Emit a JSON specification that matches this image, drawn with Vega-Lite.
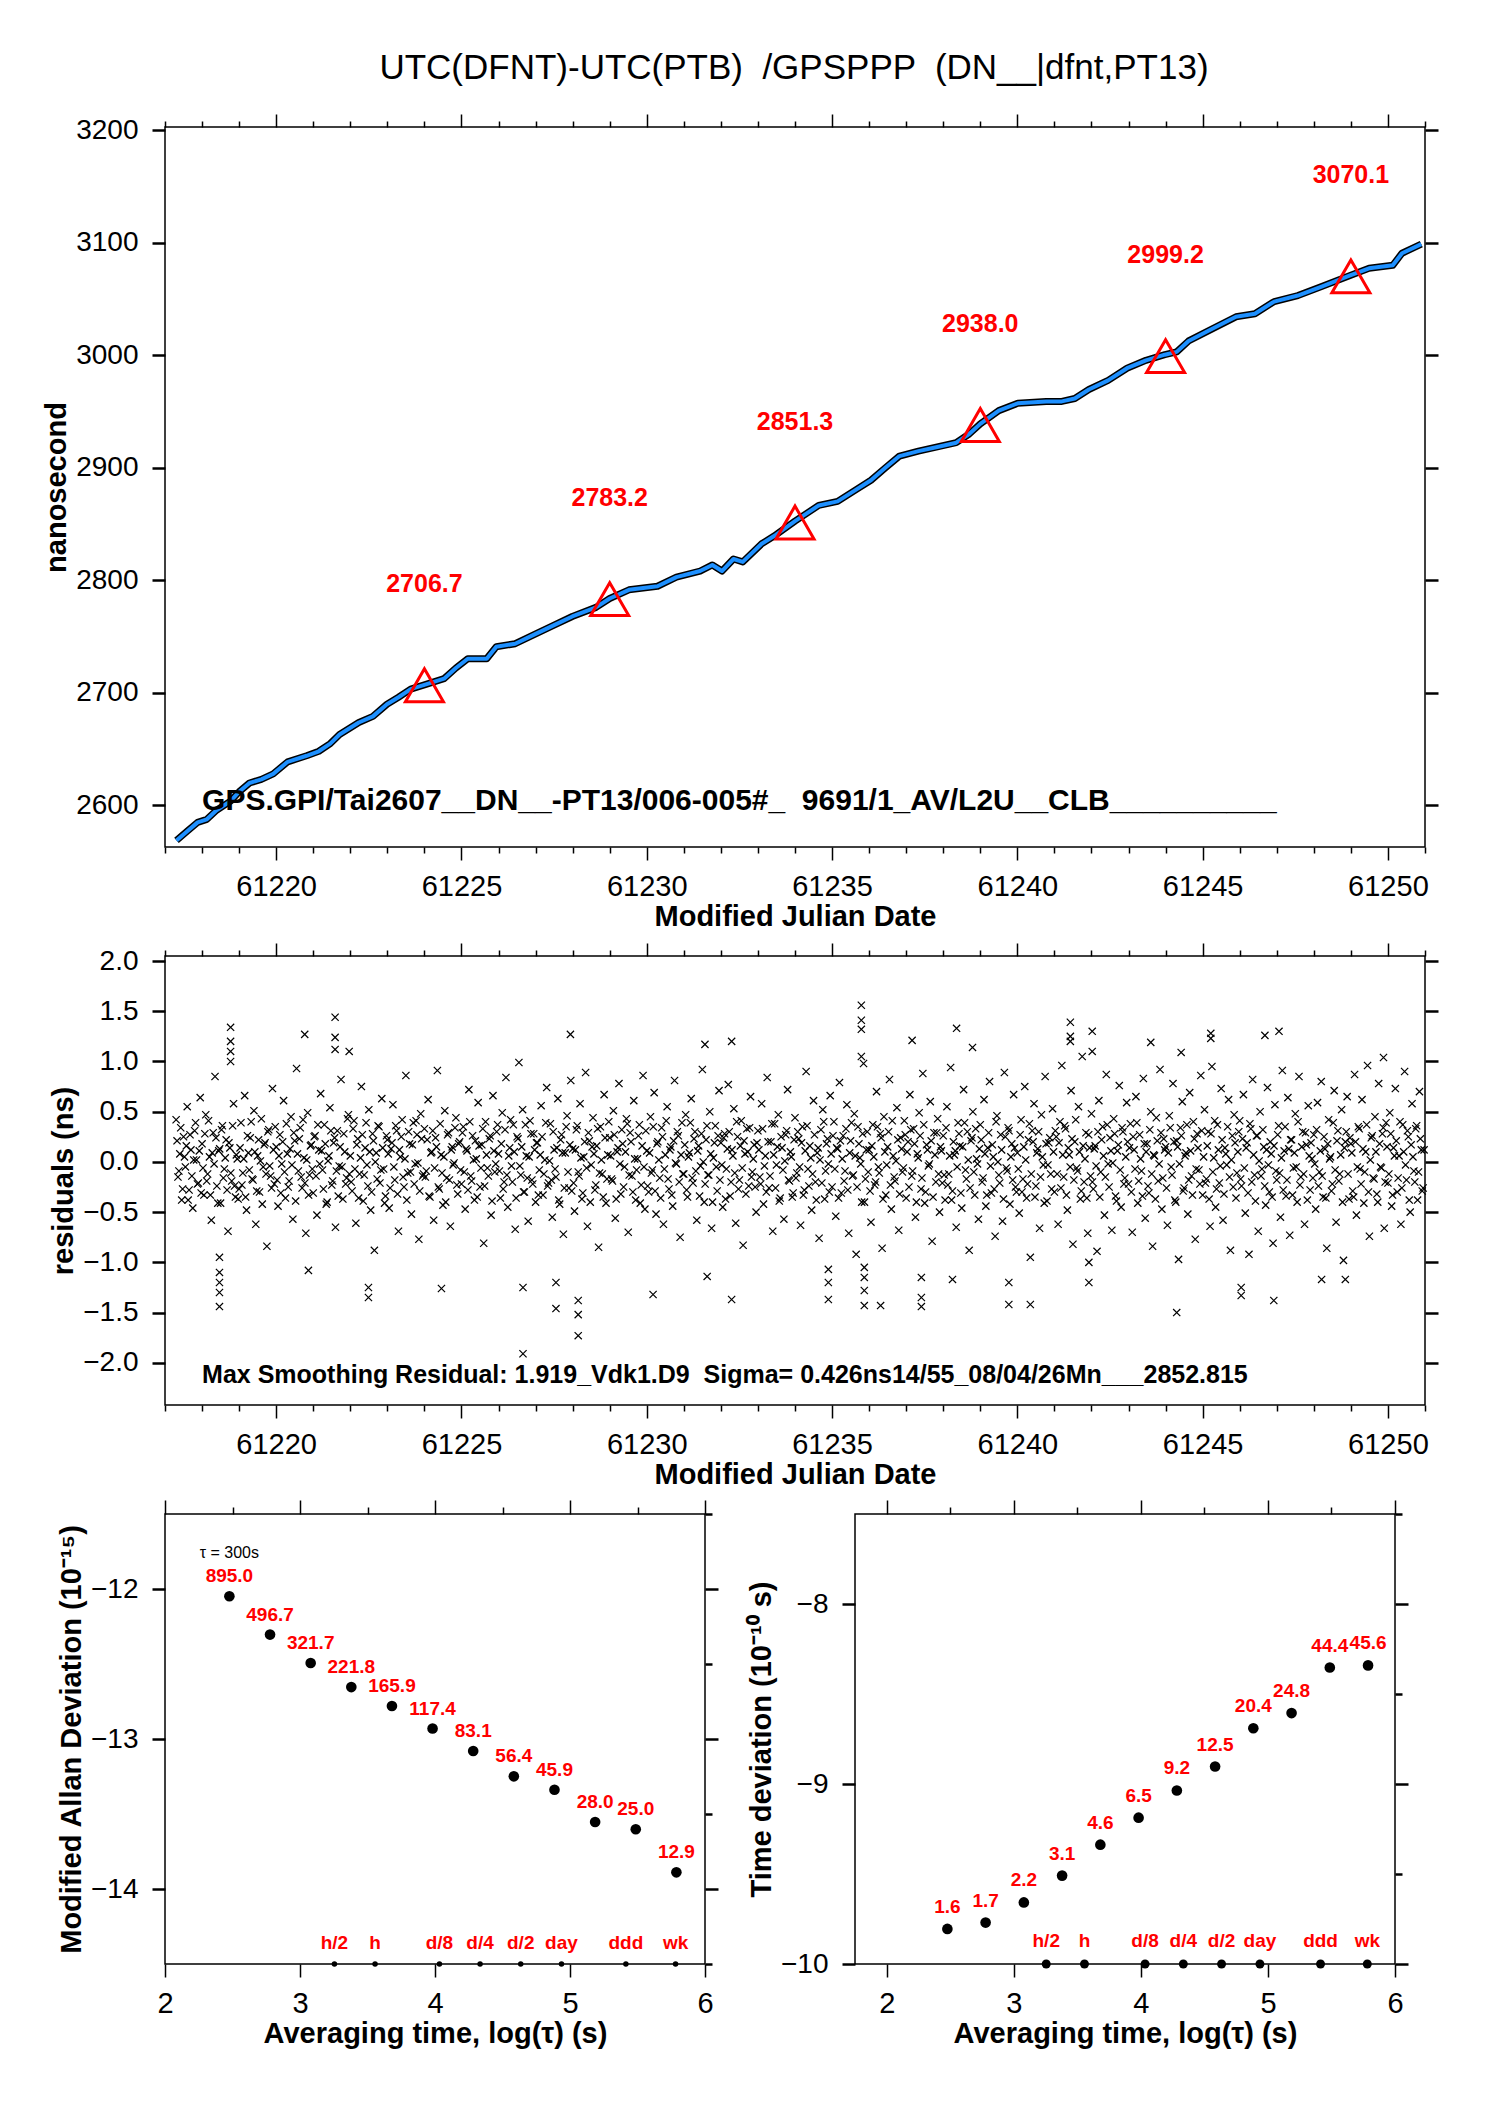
{
  "$schema": "https://vega.github.io/schema/vega-lite/v6.json",
  "background": "white",
  "padding": {"left": 41, "top": 50, "right": 5, "bottom": 5},
  "title": {
    "text": "UTC(DFNT)-UTC(PTB) \u00a0/GPSPPP \u00a0(DN__|dfnt,PT13)",
    "fontSize": 35, "fontWeight": "normal", "color": "black",
    "anchor": "middle", "frame": "bounds", "offset": -1, "baseline": "alphabetic", "dx": 53
  },
  "config": {
    "font": "Liberation Sans",
    "view": {"stroke": "black", "strokeWidth": 1.5},
    "axis": {
      "grid": false, "domain": false, "labelFlush": false, "labelOverlap": false,
      "labelColor": "black", "tickColor": "black", "titleColor": "black",
      "labelFontSize": 28, "titleFontSize": 29, "titleFontWeight": "bold",
      "labelPadding": 14, "tickSize": 13, "tickWidth": 1.5
    },
    "axisX": {"labelFontSize": 29, "labelPadding": 12, "titlePadding": 1},
    "axisY": {"titlePadding": 4, "tickWidth": 2.5}
  },
  "bounds": "flush",
  "spacing": 109,
  "datasets": {
    "curve": [{"t":61217.31,"v":2568.7},{"t":61217.6,"v":2577},{"t":61217.88,"v":2584.8},{"t":61218.13,"v":2587.5},{"t":61218.39,"v":2595.6},{"t":61218.77,"v":2603.7},{"t":61219.0,"v":2612},{"t":61219.28,"v":2619.8},{"t":61219.6,"v":2623},{"t":61219.92,"v":2627.9},{"t":61220.31,"v":2638.6},{"t":61220.82,"v":2644.0},{"t":61221.15,"v":2648},{"t":61221.46,"v":2654.8},{"t":61221.71,"v":2662.9},{"t":61222.23,"v":2673.6},{"t":61222.61,"v":2679.0},{"t":61222.99,"v":2689.8},{"t":61223.3,"v":2696},{"t":61223.63,"v":2703.2},{"t":61224.02,"v":2707.2},{"t":61224.53,"v":2712.5},{"t":61224.85,"v":2722},{"t":61225.17,"v":2730.2},{"t":61225.68,"v":2730.2},{"t":61225.94,"v":2740.9},{"t":61226.45,"v":2743.6},{"t":61226.96,"v":2751.7},{"t":61227.47,"v":2759.7},{"t":61227.99,"v":2767.8},{"t":61228.63,"v":2775.9},{"t":61229.0,"v":2783.8},{"t":61229.52,"v":2791.5},{"t":61230.29,"v":2794.7},{"t":61230.8,"v":2802.8},{"t":61231.44,"v":2808.2},{"t":61231.77,"v":2813.6},{"t":61232.03,"v":2808.2},{"t":61232.34,"v":2818.9},{"t":61232.59,"v":2816.3},{"t":61233.1,"v":2832.4},{"t":61233.49,"v":2840.5},{"t":61234.0,"v":2852.5},{"t":61234.64,"v":2866.5},{"t":61235.15,"v":2870.1},{"t":61235.66,"v":2880.8},{"t":61236.05,"v":2888.9},{"t":61236.43,"v":2899.7},{"t":61236.82,"v":2910.4},{"t":61237.33,"v":2914.8},{"t":61237.84,"v":2918.5},{"t":61238.35,"v":2922.3},{"t":61238.7,"v":2930},{"t":61239.0,"v":2939},{"t":61239.5,"v":2950.8},{"t":61240.01,"v":2957.3},{"t":61240.78,"v":2958.9},{"t":61241.2,"v":2959},{"t":61241.55,"v":2961.6},{"t":61241.93,"v":2969.6},{"t":61242.45,"v":2977.7},{"t":61242.96,"v":2988.5},{"t":61243.47,"v":2995.5},{"t":61243.98,"v":3000.5},{"t":61244.3,"v":3003},{"t":61244.62,"v":3012.7},{"t":61245.26,"v":3023.5},{"t":61245.9,"v":3034.2},{"t":61246.41,"v":3036.9},{"t":61246.93,"v":3047.7},{"t":61247.57,"v":3053.1},{"t":61248.21,"v":3061.1},{"t":61248.98,"v":3071},{"t":61249.49,"v":3077.3},{"t":61250.13,"v":3080.0},{"t":61250.38,"v":3090.7},{"t":61250.9,"v":3098.8}],
    "tri": [{"t":61224,"v":2706.7},{"t":61229,"v":2783.2},{"t":61234,"v":2851.3},{"t":61239,"v":2938.0},{"t":61244,"v":2999.2},{"t":61249,"v":3070.1}],
    "adev": [{"tau":2.477,"dev":-12.048,"val":895.0},{"tau":2.778,"dev":-12.304,"val":496.7},{"tau":3.079,"dev":-12.493,"val":321.7},{"tau":3.38,"dev":-12.654,"val":221.8},{"tau":3.681,"dev":-12.78,"val":165.9},{"tau":3.982,"dev":-12.93,"val":117.4},{"tau":4.283,"dev":-13.08,"val":83.1},{"tau":4.584,"dev":-13.249,"val":56.4},{"tau":4.885,"dev":-13.338,"val":45.9},{"tau":5.186,"dev":-13.553,"val":28.0},{"tau":5.487,"dev":-13.602,"val":25.0},{"tau":5.788,"dev":-13.889,"val":12.9}],
    "tdev": [{"tau":2.477,"dev":-9.805,"val":1.6},{"tau":2.778,"dev":-9.77,"val":1.7},{"tau":3.079,"dev":-9.658,"val":2.2},{"tau":3.38,"dev":-9.509,"val":3.1},{"tau":3.681,"dev":-9.337,"val":4.6},{"tau":3.982,"dev":-9.187,"val":6.5},{"tau":4.283,"dev":-9.036,"val":9.2},{"tau":4.584,"dev":-8.903,"val":12.5},{"tau":4.885,"dev":-8.69,"val":20.4},{"tau":5.186,"dev":-8.606,"val":24.8},{"tau":5.487,"dev":-8.353,"val":44.4},{"tau":5.788,"dev":-8.341,"val":45.6}],
    "marks": [{"tau":3.255,"name":"h/2"},{"tau":3.556,"name":"h"},{"tau":4.033,"name":"d/8"},{"tau":4.334,"name":"d/4"},{"tau":4.635,"name":"d/2"},{"tau":4.937,"name":"day"},{"tau":5.414,"name":"ddd"},{"tau":5.782,"name":"wk"}],
    "resid": [
{"t":61217.3,"r":0.42},{"t":61217.35,"r":-0.15},{"t":61217.4,"r":0.08},{"t":61217.45,"r":-0.38},{"t":61217.5,"r":0.25},{"t":61217.55,"r":-0.05},{"t":61217.6,"r":0.55},{"t":61217.65,"r":-0.28},{"t":61217.7,"r":0.12},{"t":61217.75,"r":-0.46},{"t":61217.8,"r":0.31},{"t":61217.85,"r":0.02},{"t":61217.9,"r":-0.21},{"t":61217.95,"r":0.64},
{"t":61218,"r":0.18},{"t":61218.05,"r":-0.33},{"t":61218.1,"r":0.47},{"t":61218.15,"r":-0.12},{"t":61218.2,"r":0.05},{"t":61218.25,"r":-0.58},{"t":61218.3,"r":0.29},{"t":61218.35,"r":0.85},{"t":61218.4,"r":-0.24},{"t":61218.45,"r":0.11},{"t":61218.5,"r":-0.41},{"t":61218.55,"r":0.36},{"t":61218.6,"r":-0.07},{"t":61218.65,"r":0.22},{"t":61218.7,"r":-0.69},{"t":61218.75,"r":0.14},{"t":61218.8,"r":-0.19},{"t":61218.85,"r":0.58},{"t":61218.9,"r":-0.35},{"t":61218.95,"r":0.03},
{"t":61219,"r":-0.27},{"t":61219.05,"r":0.39},{"t":61219.1,"r":-0.11},{"t":61219.15,"r":0.66},{"t":61219.2,"r":-0.48},{"t":61219.25,"r":0.09},{"t":61219.3,"r":0.24},{"t":61219.35,"r":-0.17},{"t":61219.4,"r":0.51},{"t":61219.45,"r":-0.62},{"t":61219.5,"r":0.06},{"t":61219.55,"r":-0.3},{"t":61219.6,"r":0.43},{"t":61219.65,"r":-0.05},{"t":61219.7,"r":0.19},{"t":61219.75,"r":-0.84},{"t":61219.8,"r":0.32},{"t":61219.85,"r":-0.14},{"t":61219.9,"r":0.73},{"t":61219.95,"r":-0.22},
{"t":61220,"r":0.15},{"t":61220.05,"r":-0.44},{"t":61220.1,"r":0.27},{"t":61220.15,"r":-0.02},{"t":61220.2,"r":0.61},{"t":61220.25,"r":-0.36},{"t":61220.3,"r":0.08},{"t":61220.35,"r":-0.19},{"t":61220.4,"r":0.45},{"t":61220.45,"r":-0.57},{"t":61220.5,"r":0.21},{"t":61220.55,"r":0.93},{"t":61220.6,"r":-0.09},{"t":61220.65,"r":0.34},{"t":61220.7,"r":-0.26},{"t":61220.75,"r":0.04},{"t":61220.8,"r":-0.71},{"t":61220.85,"r":0.49},{"t":61220.9,"r":-0.13},{"t":61220.95,"r":0.17},
{"t":61221,"r":-0.31},{"t":61221.05,"r":0.26},{"t":61221.1,"r":-0.53},{"t":61221.15,"r":0.12},{"t":61221.2,"r":0.68},{"t":61221.25,"r":-0.08},{"t":61221.3,"r":0.37},{"t":61221.35,"r":-0.42},{"t":61221.4,"r":0.01},{"t":61221.45,"r":0.54},{"t":61221.5,"r":-0.23},{"t":61221.55,"r":0.19},{"t":61221.6,"r":-0.65},{"t":61221.65,"r":0.31},{"t":61221.7,"r":-0.04},{"t":61221.75,"r":0.82},{"t":61221.8,"r":-0.37},{"t":61221.85,"r":0.1},{"t":61221.9,"r":-0.16},{"t":61221.95,"r":0.47},
{"t":61222,"r":0.06},{"t":61222.05,"r":-0.29},{"t":61222.1,"r":0.41},{"t":61222.15,"r":-0.61},{"t":61222.2,"r":0.23},{"t":61222.25,"r":-0.12},{"t":61222.3,"r":0.75},{"t":61222.35,"r":-0.39},{"t":61222.4,"r":0.14},{"t":61222.45,"r":-0.03},{"t":61222.5,"r":0.52},{"t":61222.55,"r":-0.48},{"t":61222.6,"r":0.28},{"t":61222.65,"r":-0.88},{"t":61222.7,"r":0.09},{"t":61222.75,"r":0.36},{"t":61222.8,"r":-0.21},{"t":61222.85,"r":0.63},{"t":61222.9,"r":-0.07},{"t":61222.95,"r":-0.34},
{"t":61223,"r":0.22},{"t":61223.05,"r":-0.46},{"t":61223.1,"r":0.13},{"t":61223.15,"r":0.57},{"t":61223.2,"r":-0.18},{"t":61223.25,"r":0.31},{"t":61223.3,"r":-0.69},{"t":61223.35,"r":0.05},{"t":61223.4,"r":0.42},{"t":61223.45,"r":-0.25},{"t":61223.5,"r":0.86},{"t":61223.55,"r":-0.11},{"t":61223.6,"r":0.18},{"t":61223.65,"r":-0.52},{"t":61223.7,"r":0.39},{"t":61223.75,"r":-0.02},{"t":61223.8,"r":0.27},{"t":61223.85,"r":-0.77},{"t":61223.9,"r":0.48},{"t":61223.95,"r":-0.14},
{"t":61224,"r":0.33},{"t":61224.05,"r":-0.09},{"t":61224.1,"r":0.62},{"t":61224.15,"r":-0.35},{"t":61224.2,"r":0.1},{"t":61224.25,"r":-0.58},{"t":61224.3,"r":0.24},{"t":61224.35,"r":0.91},{"t":61224.4,"r":-0.27},{"t":61224.45,"r":0.07},{"t":61224.5,"r":-0.43},{"t":61224.55,"r":0.51},{"t":61224.6,"r":-0.16},{"t":61224.65,"r":0.29},{"t":61224.7,"r":-0.64},{"t":61224.75,"r":0.15},{"t":61224.8,"r":-0.01},{"t":61224.85,"r":0.44},{"t":61224.9,"r":-0.32},{"t":61224.95,"r":0.2},
{"t":61225,"r":-0.22},{"t":61225.05,"r":0.35},{"t":61225.1,"r":-0.47},{"t":61225.15,"r":0.11},{"t":61225.2,"r":0.72},{"t":61225.25,"r":-0.14},{"t":61225.3,"r":0.26},{"t":61225.35,"r":-0.38},{"t":61225.4,"r":0.03},{"t":61225.45,"r":0.59},{"t":61225.5,"r":-0.25},{"t":61225.55,"r":0.17},{"t":61225.6,"r":-0.81},{"t":61225.65,"r":0.4},{"t":61225.7,"r":-0.06},{"t":61225.75,"r":0.23},{"t":61225.8,"r":-0.53},{"t":61225.85,"r":0.66},{"t":61225.9,"r":-0.1},{"t":61225.95,"r":0.3},
{"t":61226,"r":0.08},{"t":61226.05,"r":-0.36},{"t":61226.1,"r":0.49},{"t":61226.15,"r":-0.2},{"t":61226.2,"r":0.84},{"t":61226.25,"r":-0.45},{"t":61226.3,"r":0.14},{"t":61226.35,"r":-0.04},{"t":61226.4,"r":0.37},{"t":61226.45,"r":-0.67},{"t":61226.5,"r":0.25},{"t":61226.55,"r":0.99},{"t":61226.6,"r":-0.13},{"t":61226.65,"r":0.52},{"t":61226.7,"r":-0.3},{"t":61226.75,"r":0.06},{"t":61226.8,"r":-0.59},{"t":61226.85,"r":0.41},{"t":61226.9,"r":-0.18},{"t":61226.95,"r":0.28},
{"t":61227,"r":-0.4},{"t":61227.05,"r":0.19},{"t":61227.1,"r":-0.08},{"t":61227.15,"r":0.56},{"t":61227.2,"r":-0.33},{"t":61227.25,"r":0.02},{"t":61227.3,"r":0.74},{"t":61227.35,"r":-0.21},{"t":61227.4,"r":0.38},{"t":61227.45,"r":-0.55},{"t":61227.5,"r":0.12},{"t":61227.55,"r":-0.15},{"t":61227.6,"r":0.63},{"t":61227.65,"r":-0.42},{"t":61227.7,"r":0.27},{"t":61227.75,"r":-0.72},{"t":61227.8,"r":0.09},{"t":61227.85,"r":0.46},{"t":61227.9,"r":-0.26},{"t":61227.95,"r":0.81},
{"t":61228,"r":0.13},{"t":61228.05,"r":-0.49},{"t":61228.1,"r":0.32},{"t":61228.15,"r":-0.1},{"t":61228.2,"r":0.58},{"t":61228.25,"r":-0.37},{"t":61228.3,"r":0.05},{"t":61228.35,"r":0.89},{"t":61228.4,"r":-0.64},{"t":61228.45,"r":0.21},{"t":61228.5,"r":-0.03},{"t":61228.55,"r":0.44},{"t":61228.6,"r":-0.28},{"t":61228.65,"r":0.16},{"t":61228.7,"r":-0.85},{"t":61228.75,"r":0.35},{"t":61228.8,"r":-0.12},{"t":61228.85,"r":0.67},{"t":61228.9,"r":-0.41},{"t":61228.95,"r":0.07},
{"t":61229,"r":0.24},{"t":61229.05,"r":-0.17},{"t":61229.1,"r":0.51},{"t":61229.15,"r":-0.56},{"t":61229.2,"r":0.1},{"t":61229.25,"r":0.78},{"t":61229.3,"r":-0.32},{"t":61229.35,"r":0.18},{"t":61229.4,"r":-0.05},{"t":61229.45,"r":0.43},{"t":61229.5,"r":-0.7},{"t":61229.55,"r":0.29},{"t":61229.6,"r":-0.14},{"t":61229.65,"r":0.61},{"t":61229.7,"r":-0.38},{"t":61229.75,"r":0.03},{"t":61229.8,"r":0.37},{"t":61229.85,"r":-0.23},{"t":61229.9,"r":0.86},{"t":61229.95,"r":-0.47},
{"t":61230,"r":0.11},{"t":61230.05,"r":-0.3},{"t":61230.1,"r":0.45},{"t":61230.15,"r":-0.08},{"t":61230.2,"r":0.69},{"t":61230.25,"r":-0.52},{"t":61230.3,"r":0.2},{"t":61230.35,"r":-0.16},{"t":61230.4,"r":0.34},{"t":61230.45,"r":-0.62},{"t":61230.5,"r":0.07},{"t":61230.55,"r":0.55},{"t":61230.6,"r":-0.27},{"t":61230.65,"r":0.15},{"t":61230.7,"r":-0.44},{"t":61230.75,"r":0.81},{"t":61230.8,"r":-0.02},{"t":61230.85,"r":0.26},{"t":61230.9,"r":-0.75},{"t":61230.95,"r":0.39},
{"t":61231,"r":-0.12},{"t":61231.05,"r":0.47},{"t":61231.1,"r":-0.35},{"t":61231.15,"r":0.09},{"t":61231.2,"r":0.63},{"t":61231.25,"r":-0.21},{"t":61231.3,"r":0.3},{"t":61231.35,"r":-0.58},{"t":61231.4,"r":0.16},{"t":61231.45,"r":-0.04},{"t":61231.5,"r":0.92},{"t":61231.55,"r":-0.4},{"t":61231.6,"r":0.22},{"t":61231.65,"r":-0.13},{"t":61231.7,"r":0.5},{"t":61231.75,"r":-0.66},{"t":61231.8,"r":0.04},{"t":61231.85,"r":0.36},{"t":61231.9,"r":-0.29},{"t":61231.95,"r":0.71},
{"t":61232,"r":0.19},{"t":61232.05,"r":-0.45},{"t":61232.1,"r":0.28},{"t":61232.15,"r":-0.07},{"t":61232.2,"r":0.77},{"t":61232.25,"r":-0.34},{"t":61232.3,"r":0.12},{"t":61232.35,"r":0.53},{"t":61232.4,"r":-0.61},{"t":61232.45,"r":0.25},{"t":61232.5,"r":-0.18},{"t":61232.55,"r":0.41},{"t":61232.6,"r":-0.83},{"t":61232.65,"r":0.08},{"t":61232.7,"r":0.33},{"t":61232.75,"r":-0.24},{"t":61232.8,"r":0.65},{"t":61232.85,"r":-0.1},{"t":61232.9,"r":0.17},{"t":61232.95,"r":-0.5},
{"t":61233,"r":0.31},{"t":61233.05,"r":-0.15},{"t":61233.1,"r":0.58},{"t":61233.15,"r":-0.42},{"t":61233.2,"r":0.06},{"t":61233.25,"r":0.84},{"t":61233.3,"r":-0.26},{"t":61233.35,"r":0.2},{"t":61233.4,"r":-0.69},{"t":61233.45,"r":0.38},{"t":61233.5,"r":-0.03},{"t":61233.55,"r":0.47},{"t":61233.6,"r":-0.36},{"t":61233.65,"r":0.14},{"t":61233.7,"r":-0.57},{"t":61233.75,"r":0.27},{"t":61233.8,"r":0.72},{"t":61233.85,"r":-0.19},{"t":61233.9,"r":0.05},{"t":61233.95,"r":-0.31},
{"t":61234,"r":0.44},{"t":61234.05,"r":-0.11},{"t":61234.1,"r":0.23},{"t":61234.15,"r":-0.63},{"t":61234.2,"r":0.35},{"t":61234.25,"r":-0.28},{"t":61234.3,"r":0.9},{"t":61234.35,"r":-0.07},{"t":61234.4,"r":0.16},{"t":61234.45,"r":-0.48},{"t":61234.5,"r":0.61},{"t":61234.55,"r":-0.2},{"t":61234.6,"r":0.09},{"t":61234.65,"r":-0.76},{"t":61234.7,"r":0.32},{"t":61234.75,"r":0.52},{"t":61234.8,"r":-0.37},{"t":61234.85,"r":0.18},{"t":61234.9,"r":-0.02},{"t":61234.95,"r":0.66},
{"t":61235,"r":-0.25},{"t":61235.05,"r":0.4},{"t":61235.1,"r":-0.54},{"t":61235.15,"r":0.13},{"t":61235.2,"r":0.79},{"t":61235.25,"r":-0.31},{"t":61235.3,"r":0.26},{"t":61235.35,"r":-0.09},{"t":61235.4,"r":0.57},{"t":61235.45,"r":-0.71},{"t":61235.5,"r":0.21},{"t":61235.55,"r":-0.14},{"t":61235.6,"r":0.48},{"t":61235.65,"r":-0.92},{"t":61235.7,"r":0.35},{"t":61235.75,"r":0.04},{"t":61235.8,"r":-0.4},{"t":61235.85,"r":0.98},{"t":61235.9,"r":-0.17},{"t":61235.95,"r":0.3},
{"t":61236,"r":0.12},{"t":61236.05,"r":-0.6},{"t":61236.1,"r":0.37},{"t":61236.15,"r":-0.23},{"t":61236.2,"r":0.7},{"t":61236.25,"r":-0.05},{"t":61236.3,"r":0.28},{"t":61236.35,"r":-0.86},{"t":61236.4,"r":0.45},{"t":61236.45,"r":-0.33},{"t":61236.5,"r":0.15},{"t":61236.55,"r":0.82},{"t":61236.6,"r":-0.47},{"t":61236.65,"r":0.06},{"t":61236.7,"r":-0.19},{"t":61236.75,"r":0.54},{"t":61236.8,"r":-0.68},{"t":61236.85,"r":0.24},{"t":61236.9,"r":-0.1},{"t":61236.95,"r":0.41},
{"t":61237,"r":-0.36},{"t":61237.05,"r":0.2},{"t":61237.1,"r":0.67},{"t":61237.15,"r":-0.14},{"t":61237.2,"r":0.33},{"t":61237.25,"r":-0.55},{"t":61237.3,"r":0.08},{"t":61237.35,"r":0.49},{"t":61237.4,"r":-0.27},{"t":61237.45,"r":0.88},{"t":61237.5,"r":-0.41},{"t":61237.55,"r":0.17},{"t":61237.6,"r":-0.04},{"t":61237.65,"r":0.6},{"t":61237.7,"r":-0.79},{"t":61237.75,"r":0.29},{"t":61237.8,"r":-0.2},{"t":61237.85,"r":0.43},{"t":61237.9,"r":-0.5},{"t":61237.95,"r":0.11},
{"t":61238,"r":0.26},{"t":61238.05,"r":-0.38},{"t":61238.1,"r":0.55},{"t":61238.15,"r":-0.12},{"t":61238.2,"r":0.94},{"t":61238.25,"r":-0.29},{"t":61238.3,"r":0.07},{"t":61238.35,"r":-0.65},{"t":61238.4,"r":0.39},{"t":61238.45,"r":0.16},{"t":61238.5,"r":-0.46},{"t":61238.55,"r":0.72},{"t":61238.6,"r":-0.08},{"t":61238.65,"r":0.3},{"t":61238.7,"r":-0.88},{"t":61238.75,"r":0.21},{"t":61238.8,"r":0.5},{"t":61238.85,"r":-0.33},{"t":61238.9,"r":0.03},{"t":61238.95,"r":-0.57},
{"t":61239,"r":0.37},{"t":61239.05,"r":-0.2},{"t":61239.1,"r":0.62},{"t":61239.15,"r":-0.44},{"t":61239.2,"r":0.14},{"t":61239.25,"r":0.8},{"t":61239.3,"r":-0.31},{"t":61239.35,"r":0.05},{"t":61239.4,"r":-0.74},{"t":61239.45,"r":0.46},{"t":61239.5,"r":-0.13},{"t":61239.55,"r":0.27},{"t":61239.6,"r":-0.59},{"t":61239.65,"r":0.89},{"t":61239.7,"r":-0.06},{"t":61239.75,"r":0.34},{"t":61239.8,"r":-0.42},{"t":61239.85,"r":0.18},{"t":61239.9,"r":0.67},{"t":61239.95,"r":-0.25},
{"t":61240,"r":0.09},{"t":61240.05,"r":-0.51},{"t":61240.1,"r":0.42},{"t":61240.15,"r":-0.17},{"t":61240.2,"r":0.75},{"t":61240.25,"r":-0.36},{"t":61240.3,"r":0.22},{"t":61240.35,"r":-0.95},{"t":61240.4,"r":0.31},{"t":61240.45,"r":0.58},{"t":61240.5,"r":-0.24},{"t":61240.55,"r":0.13},{"t":61240.6,"r":-0.66},{"t":61240.65,"r":0.47},{"t":61240.7,"r":-0.03},{"t":61240.75,"r":0.85},{"t":61240.8,"r":-0.39},{"t":61240.85,"r":0.19},{"t":61240.9,"r":-0.12},{"t":61240.95,"r":0.53},
{"t":61241,"r":-0.3},{"t":61241.05,"r":0.25},{"t":61241.1,"r":-0.62},{"t":61241.15,"r":0.4},{"t":61241.2,"r":0.96},{"t":61241.25,"r":-0.15},{"t":61241.3,"r":0.33},{"t":61241.35,"r":-0.48},{"t":61241.4,"r":0.07},{"t":61241.45,"r":0.71},{"t":61241.5,"r":-0.82},{"t":61241.55,"r":0.2},{"t":61241.6,"r":-0.06},{"t":61241.65,"r":0.55},{"t":61241.7,"r":-0.37},{"t":61241.75,"r":1.05},{"t":61241.8,"r":-0.2},{"t":61241.85,"r":0.29},{"t":61241.9,"r":-0.71},{"t":61241.95,"r":0.14},
{"t":61242,"r":0.48},{"t":61242.05,"r":-0.27},{"t":61242.1,"r":0.16},{"t":61242.15,"r":-0.89},{"t":61242.2,"r":0.61},{"t":61242.25,"r":-0.1},{"t":61242.3,"r":0.35},{"t":61242.35,"r":-0.53},{"t":61242.4,"r":0.87},{"t":61242.45,"r":-0.02},{"t":61242.5,"r":0.24},{"t":61242.55,"r":-0.68},{"t":61242.6,"r":0.43},{"t":61242.65,"r":-0.34},{"t":61242.7,"r":0.11},{"t":61242.75,"r":0.76},{"t":61242.8,"r":-0.45},{"t":61242.85,"r":0.3},{"t":61242.9,"r":-0.16},{"t":61242.95,"r":0.59},
{"t":61243,"r":-0.22},{"t":61243.05,"r":0.38},{"t":61243.1,"r":-0.7},{"t":61243.15,"r":0.12},{"t":61243.2,"r":0.65},{"t":61243.25,"r":-0.41},{"t":61243.3,"r":0.27},{"t":61243.35,"r":-0.09},{"t":61243.4,"r":0.83},{"t":61243.45,"r":-0.56},{"t":61243.5,"r":0.18},{"t":61243.55,"r":-0.31},{"t":61243.6,"r":0.5},{"t":61243.65,"r":-0.84},{"t":61243.7,"r":0.06},{"t":61243.75,"r":0.44},{"t":61243.8,"r":-0.19},{"t":61243.85,"r":0.92},{"t":61243.9,"r":-0.47},{"t":61243.95,"r":0.23},
{"t":61244,"r":0.15},{"t":61244.05,"r":-0.63},{"t":61244.1,"r":0.46},{"t":61244.15,"r":-0.05},{"t":61244.2,"r":0.78},{"t":61244.25,"r":-0.38},{"t":61244.3,"r":0.21},{"t":61244.35,"r":-0.97},{"t":61244.4,"r":0.34},{"t":61244.45,"r":0.6},{"t":61244.5,"r":-0.26},{"t":61244.55,"r":0.09},{"t":61244.6,"r":-0.52},{"t":61244.65,"r":0.69},{"t":61244.7,"r":-0.14},{"t":61244.75,"r":0.4},{"t":61244.8,"r":-0.77},{"t":61244.85,"r":0.28},{"t":61244.9,"r":-0.08},{"t":61244.95,"r":0.86},
{"t":61245,"r":-0.33},{"t":61245.05,"r":0.52},{"t":61245.1,"r":-0.17},{"t":61245.15,"r":0.3},{"t":61245.2,"r":-0.64},{"t":61245.25,"r":0.95},{"t":61245.3,"r":0.04},{"t":61245.35,"r":-0.45},{"t":61245.4,"r":0.37},{"t":61245.45,"r":-0.21},{"t":61245.5,"r":0.73},{"t":61245.55,"r":-0.58},{"t":61245.6,"r":0.14},{"t":61245.65,"r":-0.03},{"t":61245.7,"r":0.62},{"t":61245.75,"r":-0.88},{"t":61245.8,"r":0.26},{"t":61245.85,"r":0.47},{"t":61245.9,"r":-0.36},{"t":61245.95,"r":0.1},
{"t":61246,"r":0.41},{"t":61246.05,"r":-0.24},{"t":61246.1,"r":0.67},{"t":61246.15,"r":-0.51},{"t":61246.2,"r":0.19},{"t":61246.25,"r":-0.92},{"t":61246.3,"r":0.33},{"t":61246.35,"r":0.82},{"t":61246.4,"r":-0.13},{"t":61246.45,"r":0.26},{"t":61246.5,"r":-0.69},{"t":61246.55,"r":0.5},{"t":61246.6,"r":-0.07},{"t":61246.65,"r":0.15},{"t":61246.7,"r":-0.43},{"t":61246.75,"r":0.74},{"t":61246.8,"r":-0.3},{"t":61246.85,"r":0.08},{"t":61246.9,"r":-0.81},{"t":61246.95,"r":0.57},
{"t":61247,"r":-0.18},{"t":61247.05,"r":0.36},{"t":61247.1,"r":-0.55},{"t":61247.15,"r":0.91},{"t":61247.2,"r":0.11},{"t":61247.25,"r":-0.34},{"t":61247.3,"r":0.64},{"t":61247.35,"r":-0.73},{"t":61247.4,"r":0.22},{"t":61247.45,"r":-0.06},{"t":61247.5,"r":0.48},{"t":61247.55,"r":-0.4},{"t":61247.6,"r":0.85},{"t":61247.65,"r":-0.15},{"t":61247.7,"r":0.3},{"t":61247.75,"r":-0.62},{"t":61247.8,"r":0.17},{"t":61247.85,"r":0.56},{"t":61247.9,"r":-0.28},{"t":61247.95,"r":0.03},
{"t":61248,"r":0.27},{"t":61248.05,"r":-0.47},{"t":61248.1,"r":0.59},{"t":61248.15,"r":-0.1},{"t":61248.2,"r":0.8},{"t":61248.25,"r":-0.35},{"t":61248.3,"r":0.13},{"t":61248.35,"r":-0.86},{"t":61248.4,"r":0.42},{"t":61248.45,"r":0.05},{"t":61248.5,"r":-0.22},{"t":61248.55,"r":0.71},{"t":61248.6,"r":-0.6},{"t":61248.65,"r":0.31},{"t":61248.7,"r":-0.12},{"t":61248.75,"r":0.52},{"t":61248.8,"r":-0.98},{"t":61248.85,"r":0.2},{"t":61248.9,"r":0.65},{"t":61248.95,"r":-0.37},
{"t":61249,"r":0.18},{"t":61249.05,"r":-0.29},{"t":61249.1,"r":0.87},{"t":61249.15,"r":-0.53},{"t":61249.2,"r":0.35},{"t":61249.25,"r":-0.07},{"t":61249.3,"r":0.62},{"t":61249.35,"r":-0.41},{"t":61249.4,"r":0.1},{"t":61249.45,"r":0.96},{"t":61249.5,"r":-0.74},{"t":61249.55,"r":0.24},{"t":61249.6,"r":-0.16},{"t":61249.65,"r":0.45},{"t":61249.7,"r":-0.32},{"t":61249.75,"r":0.78},{"t":61249.8,"r":-0.05},{"t":61249.85,"r":0.28},{"t":61249.9,"r":-0.66},{"t":61249.95,"r":0.39},
{"t":61250,"r":-0.21},{"t":61250.05,"r":0.49},{"t":61250.1,"r":-0.44},{"t":61250.15,"r":0.14},{"t":61250.2,"r":0.73},{"t":61250.25,"r":-0.3},{"t":61250.3,"r":0.06},{"t":61250.35,"r":-0.62},{"t":61250.4,"r":0.37},{"t":61250.45,"r":0.9},{"t":61250.5,"r":-0.18},{"t":61250.55,"r":0.25},{"t":61250.6,"r":-0.5},{"t":61250.65,"r":0.58},{"t":61250.7,"r":-0.09},{"t":61250.75,"r":0.33},{"t":61250.8,"r":-0.38},{"t":61250.85,"r":0.7},{"t":61250.9,"r":0.12},{"t":61250.95,"r":-0.26},
{"t":61217.325,"r":0.21},{"t":61217.375,"r":-0.09},{"t":61217.425,"r":0.34},{"t":61217.475,"r":-0.27},{"t":61217.525,"r":0.05},{"t":61217.575,"r":0.16},{"t":61217.625,"r":-0.38},{"t":61217.675,"r":0.27},{"t":61217.725,"r":-0.14},{"t":61217.775,"r":0.02},{"t":61217.825,"r":0.39},{"t":61217.875,"r":-0.22},{"t":61217.925,"r":0.11},{"t":61217.975,"r":-0.31},
{"t":61218.025,"r":-0.06},{"t":61218.075,"r":0.28},{"t":61218.125,"r":-0.19},{"t":61218.175,"r":0.41},{"t":61218.225,"r":-0.33},{"t":61218.275,"r":0.09},{"t":61218.325,"r":-0.02},{"t":61218.375,"r":0.24},{"t":61218.425,"r":-0.41},{"t":61218.475,"r":0.13},{"t":61218.525,"r":0.32},{"t":61218.575,"r":-0.16},{"t":61218.625,"r":0.04},{"t":61218.675,"r":-0.28},{"t":61218.725,"r":0.19},{"t":61218.775,"r":-0.11},{"t":61218.825,"r":0.36},{"t":61218.875,"r":-0.24},{"t":61218.925,"r":0.07},{"t":61218.975,"r":-0.37},
{"t":61219.025,"r":0.14},{"t":61219.075,"r":-0.23},{"t":61219.125,"r":0.03},{"t":61219.175,"r":-0.35},{"t":61219.225,"r":0.26},{"t":61219.275,"r":-0.08},{"t":61219.325,"r":0.4},{"t":61219.375,"r":-0.18},{"t":61219.425,"r":0.1},{"t":61219.475,"r":-0.29},{"t":61219.525,"r":0.22},{"t":61219.575,"r":0.01},{"t":61219.625,"r":-0.42},{"t":61219.675,"r":0.17},{"t":61219.725,"r":-0.12},{"t":61219.775,"r":0.3},{"t":61219.825,"r":-0.04},{"t":61219.875,"r":-0.26},{"t":61219.925,"r":0.12},{"t":61219.975,"r":0.35},
{"t":61220.025,"r":-0.18},{"t":61220.075,"r":0.06},{"t":61220.125,"r":-0.31},{"t":61220.175,"r":0.2},{"t":61220.225,"r":-0.1},{"t":61220.275,"r":0.38},{"t":61220.325,"r":-0.25},{"t":61220.375,"r":0.13},{"t":61220.425,"r":-0.03},{"t":61220.475,"r":0.29},{"t":61220.525,"r":-0.39},{"t":61220.575,"r":0.08},{"t":61220.625,"r":0.23},{"t":61220.675,"r":-0.15},{"t":61220.725,"r":0.42},{"t":61220.775,"r":-0.21},{"t":61220.825,"r":0.02},{"t":61220.875,"r":-0.33},{"t":61220.925,"r":0.16},{"t":61220.975,"r":-0.07},
{"t":61221.025,"r":0.25},{"t":61221.075,"r":-0.14},{"t":61221.125,"r":0.37},{"t":61221.175,"r":-0.02},{"t":61221.225,"r":0.11},{"t":61221.275,"r":-0.27},{"t":61221.325,"r":0.18},{"t":61221.375,"r":-0.4},{"t":61221.425,"r":0.06},{"t":61221.475,"r":0.31},{"t":61221.525,"r":-0.19},{"t":61221.575,"r":0.24},{"t":61221.625,"r":-0.09},{"t":61221.675,"r":-0.34},{"t":61221.725,"r":0.15},{"t":61221.775,"r":-0.05},{"t":61221.825,"r":0.28},{"t":61221.875,"r":-0.22},{"t":61221.925,"r":0.43},{"t":61221.975,"r":-0.12},
{"t":61222.025,"r":-0.2},{"t":61222.075,"r":0.33},{"t":61222.125,"r":-0.07},{"t":61222.175,"r":0.17},{"t":61222.225,"r":-0.36},{"t":61222.275,"r":0.04},{"t":61222.325,"r":0.27},{"t":61222.375,"r":-0.13},{"t":61222.425,"r":0.39},{"t":61222.475,"r":-0.24},{"t":61222.525,"r":0.1},{"t":61222.575,"r":-0.3},{"t":61222.625,"r":0.21},{"t":61222.675,"r":0.0},{"t":61222.725,"r":-0.17},{"t":61222.775,"r":0.35},{"t":61222.825,"r":-0.08},{"t":61222.875,"r":0.14},{"t":61222.925,"r":-0.41},{"t":61222.975,"r":0.26},
{"t":61223.025,"r":0.08},{"t":61223.075,"r":-0.26},{"t":61223.125,"r":0.19},{"t":61223.175,"r":-0.05},{"t":61223.225,"r":0.36},{"t":61223.275,"r":-0.32},{"t":61223.325,"r":0.12},{"t":61223.375,"r":0.25},{"t":61223.425,"r":-0.15},{"t":61223.475,"r":0.03},{"t":61223.525,"r":-0.38},{"t":61223.575,"r":0.3},{"t":61223.625,"r":-0.1},{"t":61223.675,"r":0.17},{"t":61223.725,"r":-0.22},{"t":61223.775,"r":0.41},{"t":61223.825,"r":-0.01},{"t":61223.875,"r":-0.29},{"t":61223.925,"r":0.23},{"t":61223.975,"r":-0.12},
{"t":61224.025,"r":-0.15},{"t":61224.075,"r":0.22},{"t":61224.125,"r":-0.34},{"t":61224.175,"r":0.09},{"t":61224.225,"r":0.31},{"t":61224.275,"r":-0.06},{"t":61224.325,"r":0.15},{"t":61224.375,"r":-0.25},{"t":61224.425,"r":0.38},{"t":61224.475,"r":-0.11},{"t":61224.525,"r":0.05},{"t":61224.575,"r":-0.4},{"t":61224.625,"r":0.27},{"t":61224.675,"r":-0.18},{"t":61224.725,"r":0.12},{"t":61224.775,"r":-0.03},{"t":61224.825,"r":0.34},{"t":61224.875,"r":-0.23},{"t":61224.925,"r":0.18},{"t":61224.975,"r":-0.08},
{"t":61225.025,"r":0.29},{"t":61225.075,"r":-0.1},{"t":61225.125,"r":0.13},{"t":61225.175,"r":-0.28},{"t":61225.225,"r":0.4},{"t":61225.275,"r":-0.19},{"t":61225.325,"r":0.02},{"t":61225.375,"r":0.21},{"t":61225.425,"r":-0.35},{"t":61225.475,"r":0.16},{"t":61225.525,"r":-0.06},{"t":61225.575,"r":0.33},{"t":61225.625,"r":-0.24},{"t":61225.675,"r":0.07},{"t":61225.725,"r":-0.14},{"t":61225.775,"r":0.26},{"t":61225.825,"r":-0.39},{"t":61225.875,"r":0.11},{"t":61225.925,"r":-0.02},{"t":61225.975,"r":0.37},
{"t":61226.025,"r":-0.09},{"t":61226.075,"r":0.18},{"t":61226.125,"r":-0.27},{"t":61226.175,"r":0.32},{"t":61226.225,"r":-0.13},{"t":61226.275,"r":0.06},{"t":61226.325,"r":0.42},{"t":61226.375,"r":-0.2},{"t":61226.425,"r":0.1},{"t":61226.475,"r":-0.36},{"t":61226.525,"r":0.23},{"t":61226.575,"r":-0.04},{"t":61226.625,"r":0.15},{"t":61226.675,"r":-0.3},{"t":61226.725,"r":0.37},{"t":61226.775,"r":-0.16},{"t":61226.825,"r":0.05},{"t":61226.875,"r":0.28},{"t":61226.925,"r":-0.22},{"t":61226.975,"r":0.12},
{"t":61227.025,"r":0.19},{"t":61227.075,"r":-0.33},{"t":61227.125,"r":0.07},{"t":61227.175,"r":0.25},{"t":61227.225,"r":-0.12},{"t":61227.275,"r":0.39},{"t":61227.325,"r":-0.24},{"t":61227.375,"r":0.01},{"t":61227.425,"r":-0.18},{"t":61227.475,"r":0.3},{"t":61227.525,"r":-0.07},{"t":61227.575,"r":0.14},{"t":61227.625,"r":-0.38},{"t":61227.675,"r":0.22},{"t":61227.725,"r":0.09},{"t":61227.775,"r":-0.26},{"t":61227.825,"r":0.35},{"t":61227.875,"r":-0.1},{"t":61227.925,"r":0.17},{"t":61227.975,"r":-0.29},
{"t":61228.025,"r":-0.21},{"t":61228.075,"r":0.12},{"t":61228.125,"r":0.36},{"t":61228.175,"r":-0.14},{"t":61228.225,"r":0.04},{"t":61228.275,"r":-0.31},{"t":61228.325,"r":0.2},{"t":61228.375,"r":-0.06},{"t":61228.425,"r":0.29},{"t":61228.475,"r":-0.4},{"t":61228.525,"r":0.15},{"t":61228.575,"r":0.08},{"t":61228.625,"r":-0.23},{"t":61228.675,"r":0.33},{"t":61228.725,"r":-0.11},{"t":61228.775,"r":0.02},{"t":61228.825,"r":-0.35},{"t":61228.875,"r":0.24},{"t":61228.925,"r":-0.17},{"t":61228.975,"r":0.4},
{"t":61229.025,"r":0.06},{"t":61229.075,"r":-0.19},{"t":61229.125,"r":0.27},{"t":61229.175,"r":-0.37},{"t":61229.225,"r":0.14},{"t":61229.275,"r":-0.02},{"t":61229.325,"r":0.32},{"t":61229.375,"r":-0.25},{"t":61229.425,"r":0.1},{"t":61229.475,"r":0.38},{"t":61229.525,"r":-0.13},{"t":61229.575,"r":0.2},{"t":61229.625,"r":-0.3},{"t":61229.675,"r":0.03},{"t":61229.725,"r":-0.08},{"t":61229.775,"r":0.26},{"t":61229.825,"r":-0.41},{"t":61229.875,"r":0.16},{"t":61229.925,"r":-0.05},{"t":61229.975,"r":0.31},
{"t":61230.025,"r":-0.24},{"t":61230.075,"r":0.09},{"t":61230.125,"r":-0.11},{"t":61230.175,"r":0.35},{"t":61230.225,"r":-0.29},{"t":61230.275,"r":0.18},{"t":61230.325,"r":0.02},{"t":61230.375,"r":-0.36},{"t":61230.425,"r":0.25},{"t":61230.475,"r":-0.07},{"t":61230.525,"r":0.41},{"t":61230.575,"r":-0.17},{"t":61230.625,"r":0.12},{"t":61230.675,"r":-0.33},{"t":61230.725,"r":0.21},{"t":61230.775,"r":-0.01},{"t":61230.825,"r":0.3},{"t":61230.875,"r":-0.2},{"t":61230.925,"r":0.07},{"t":61230.975,"r":-0.12},
{"t":61231.025,"r":0.17},{"t":61231.075,"r":-0.28},{"t":61231.125,"r":0.05},{"t":61231.175,"r":0.39},{"t":61231.225,"r":-0.16},{"t":61231.275,"r":0.23},{"t":61231.325,"r":-0.09},{"t":61231.375,"r":0.11},{"t":61231.425,"r":-0.34},{"t":61231.475,"r":0.28},{"t":61231.525,"r":0.0},{"t":61231.575,"r":-0.22},{"t":61231.625,"r":0.36},{"t":61231.675,"r":-0.13},{"t":61231.725,"r":0.08},{"t":61231.775,"r":-0.4},{"t":61231.825,"r":0.19},{"t":61231.875,"r":-0.05},{"t":61231.925,"r":0.26},{"t":61231.975,"r":-0.18},
{"t":61232.025,"r":-0.03},{"t":61232.075,"r":0.24},{"t":61232.125,"r":-0.37},{"t":61232.175,"r":0.13},{"t":61232.225,"r":0.3},{"t":61232.275,"r":-0.2},{"t":61232.325,"r":0.06},{"t":61232.375,"r":-0.11},{"t":61232.425,"r":0.4},{"t":61232.475,"r":-0.27},{"t":61232.525,"r":0.16},{"t":61232.575,"r":-0.06},{"t":61232.625,"r":0.21},{"t":61232.675,"r":-0.32},{"t":61232.725,"r":0.1},{"t":61232.775,"r":0.34},{"t":61232.825,"r":-0.15},{"t":61232.875,"r":0.03},{"t":61232.925,"r":-0.25},{"t":61232.975,"r":0.19},
{"t":61233.025,"r":0.12},{"t":61233.075,"r":-0.22},{"t":61233.125,"r":0.33},{"t":61233.175,"r":-0.04},{"t":61233.225,"r":-0.3},{"t":61233.275,"r":0.2},{"t":61233.325,"r":-0.14},{"t":61233.375,"r":0.38},{"t":61233.425,"r":0.07},{"t":61233.475,"r":-0.26},{"t":61233.525,"r":0.15},{"t":61233.575,"r":-0.39},{"t":61233.625,"r":0.25},{"t":61233.675,"r":-0.08},{"t":61233.725,"r":0.01},{"t":61233.775,"r":0.31},{"t":61233.825,"r":-0.18},{"t":61233.875,"r":0.1},{"t":61233.925,"r":-0.35},{"t":61233.975,"r":0.22},
{"t":61234.025,"r":-0.16},{"t":61234.075,"r":0.3},{"t":61234.125,"r":-0.05},{"t":61234.175,"r":0.19},{"t":61234.225,"r":-0.33},{"t":61234.275,"r":0.11},{"t":61234.325,"r":0.36},{"t":61234.375,"r":-0.24},{"t":61234.425,"r":0.04},{"t":61234.475,"r":-0.12},{"t":61234.525,"r":0.27},{"t":61234.575,"r":-0.38},{"t":61234.625,"r":0.14},{"t":61234.675,"r":0.02},{"t":61234.725,"r":-0.21},{"t":61234.775,"r":0.4},{"t":61234.825,"r":-0.09},{"t":61234.875,"r":0.23},{"t":61234.925,"r":-0.3},{"t":61234.975,"r":0.08},
{"t":61235.025,"r":0.26},{"t":61235.075,"r":-0.07},{"t":61235.125,"r":0.14},{"t":61235.175,"r":-0.36},{"t":61235.225,"r":0.21},{"t":61235.275,"r":0.03},{"t":61235.325,"r":-0.19},{"t":61235.375,"r":0.33},{"t":61235.425,"r":-0.28},{"t":61235.475,"r":0.09},{"t":61235.525,"r":0.39},{"t":61235.575,"r":-0.13},{"t":61235.625,"r":0.06},{"t":61235.675,"r":-0.25},{"t":61235.725,"r":0.18},{"t":61235.775,"r":-0.02},{"t":61235.825,"r":0.28},{"t":61235.875,"r":-0.4},{"t":61235.925,"r":0.12},{"t":61235.975,"r":-0.1},
{"t":61236.025,"r":-0.29},{"t":61236.075,"r":0.16},{"t":61236.125,"r":0.05},{"t":61236.175,"r":-0.2},{"t":61236.225,"r":0.35},{"t":61236.275,"r":-0.11},{"t":61236.325,"r":0.24},{"t":61236.375,"r":-0.37},{"t":61236.425,"r":0.1},{"t":61236.475,"r":-0.03},{"t":61236.525,"r":0.3},{"t":61236.575,"r":-0.23},{"t":61236.625,"r":0.41},{"t":61236.675,"r":-0.15},{"t":61236.725,"r":0.01},{"t":61236.775,"r":0.22},{"t":61236.825,"r":-0.32},{"t":61236.875,"r":0.13},{"t":61236.925,"r":-0.06},{"t":61236.975,"r":0.27},
{"t":61237.025,"r":0.1},{"t":61237.075,"r":-0.25},{"t":61237.125,"r":0.32},{"t":61237.175,"r":-0.09},{"t":61237.225,"r":0.18},{"t":61237.275,"r":-0.4},{"t":61237.325,"r":0.04},{"t":61237.375,"r":0.26},{"t":61237.425,"r":-0.16},{"t":61237.475,"r":0.37},{"t":61237.525,"r":-0.3},{"t":61237.575,"r":0.12},{"t":61237.625,"r":-0.02},{"t":61237.675,"r":0.21},{"t":61237.725,"r":-0.35},{"t":61237.775,"r":0.07},{"t":61237.825,"r":0.29},{"t":61237.875,"r":-0.12},{"t":61237.925,"r":0.15},{"t":61237.975,"r":-0.21},
{"t":61238.025,"r":-0.13},{"t":61238.075,"r":0.34},{"t":61238.125,"r":-0.23},{"t":61238.175,"r":0.06},{"t":61238.225,"r":-0.38},{"t":61238.275,"r":0.2},{"t":61238.325,"r":0.11},{"t":61238.375,"r":-0.05},{"t":61238.425,"r":0.28},{"t":61238.475,"r":-0.31},{"t":61238.525,"r":0.15},{"t":61238.575,"r":0.39},{"t":61238.625,"r":-0.17},{"t":61238.675,"r":0.02},{"t":61238.725,"r":-0.26},{"t":61238.775,"r":0.24},{"t":61238.825,"r":-0.1},{"t":61238.875,"r":0.33},{"t":61238.925,"r":-0.02},{"t":61238.975,"r":0.13},
{"t":61239.025,"r":0.22},{"t":61239.075,"r":-0.16},{"t":61239.125,"r":0.08},{"t":61239.175,"r":-0.33},{"t":61239.225,"r":0.29},{"t":61239.275,"r":-0.04},{"t":61239.325,"r":0.17},{"t":61239.375,"r":-0.27},{"t":61239.425,"r":0.4},{"t":61239.475,"r":0.0},{"t":61239.525,"r":-0.21},{"t":61239.575,"r":0.12},{"t":61239.625,"r":-0.37},{"t":61239.675,"r":0.25},{"t":61239.725,"r":-0.09},{"t":61239.775,"r":0.31},{"t":61239.825,"r":0.05},{"t":61239.875,"r":-0.18},{"t":61239.925,"r":0.14},{"t":61239.975,"r":-0.3},
{"t":61240.025,"r":-0.07},{"t":61240.075,"r":0.27},{"t":61240.125,"r":-0.3},{"t":61240.175,"r":0.15},{"t":61240.225,"r":0.02},{"t":61240.275,"r":-0.22},{"t":61240.325,"r":0.38},{"t":61240.375,"r":-0.12},{"t":61240.425,"r":0.2},{"t":61240.475,"r":-0.35},{"t":61240.525,"r":0.09},{"t":61240.575,"r":0.3},{"t":61240.625,"r":-0.15},{"t":61240.675,"r":0.05},{"t":61240.725,"r":-0.41},{"t":61240.775,"r":0.18},{"t":61240.825,"r":-0.03},{"t":61240.875,"r":0.24},{"t":61240.925,"r":-0.27},{"t":61240.975,"r":0.1},
{"t":61241.025,"r":0.31},{"t":61241.075,"r":-0.12},{"t":61241.125,"r":0.19},{"t":61241.175,"r":-0.26},{"t":61241.225,"r":0.07},{"t":61241.275,"r":0.36},{"t":61241.325,"r":-0.33},{"t":61241.375,"r":0.14},{"t":61241.425,"r":-0.05},{"t":61241.475,"r":0.23},{"t":61241.525,"r":-0.18},{"t":61241.575,"r":0.42},{"t":61241.625,"r":-0.09},{"t":61241.675,"r":0.1},{"t":61241.725,"r":-0.29},{"t":61241.775,"r":0.16},{"t":61241.825,"r":0.03},{"t":61241.875,"r":-0.36},{"t":61241.925,"r":0.27},{"t":61241.975,"r":-0.14},
{"t":61242.025,"r":-0.2},{"t":61242.075,"r":0.13},{"t":61242.125,"r":-0.04},{"t":61242.175,"r":0.3},{"t":61242.225,"r":-0.35},{"t":61242.275,"r":0.22},{"t":61242.325,"r":0.06},{"t":61242.375,"r":-0.15},{"t":61242.425,"r":0.37},{"t":61242.475,"r":-0.25},{"t":61242.525,"r":0.11},{"t":61242.575,"r":-0.01},{"t":61242.625,"r":0.28},{"t":61242.675,"r":-0.39},{"t":61242.725,"r":0.17},{"t":61242.775,"r":-0.08},{"t":61242.825,"r":0.34},{"t":61242.875,"r":-0.22},{"t":61242.925,"r":0.05},{"t":61242.975,"r":0.2},
{"t":61243.025,"r":0.14},{"t":61243.075,"r":-0.3},{"t":61243.125,"r":0.25},{"t":61243.175,"r":-0.07},{"t":61243.225,"r":0.39},{"t":61243.275,"r":-0.19},{"t":61243.325,"r":0.03},{"t":61243.375,"r":-0.34},{"t":61243.425,"r":0.18},{"t":61243.475,"r":0.1},{"t":61243.525,"r":-0.24},{"t":61243.575,"r":0.32},{"t":61243.625,"r":-0.12},{"t":61243.675,"r":0.07},{"t":61243.725,"r":-0.37},{"t":61243.775,"r":0.21},{"t":61243.825,"r":-0.02},{"t":61243.875,"r":0.29},{"t":61243.925,"r":-0.16},{"t":61243.975,"r":0.12},
{"t":61244.025,"r":-0.26},{"t":61244.075,"r":0.09},{"t":61244.125,"r":0.34},{"t":61244.175,"r":-0.13},{"t":61244.225,"r":0.2},{"t":61244.275,"r":-0.4},{"t":61244.325,"r":0.15},{"t":61244.375,"r":-0.02},{"t":61244.425,"r":0.26},{"t":61244.475,"r":-0.29},{"t":61244.525,"r":0.06},{"t":61244.575,"r":0.37},{"t":61244.625,"r":-0.18},{"t":61244.675,"r":0.11},{"t":61244.725,"r":-0.33},{"t":61244.775,"r":0.23},{"t":61244.825,"r":-0.07},{"t":61244.875,"r":0.14},{"t":61244.925,"r":-0.22},{"t":61244.975,"r":0.31},
{"t":61245.025,"r":0.05},{"t":61245.075,"r":-0.21},{"t":61245.125,"r":0.16},{"t":61245.175,"r":-0.37},{"t":61245.225,"r":0.28},{"t":61245.275,"r":-0.1},{"t":61245.325,"r":0.41},{"t":61245.375,"r":-0.27},{"t":61245.425,"r":0.12},{"t":61245.475,"r":-0.04},{"t":61245.525,"r":0.22},{"t":61245.575,"r":-0.32},{"t":61245.625,"r":0.08},{"t":61245.675,"r":0.35},{"t":61245.725,"r":-0.15},{"t":61245.775,"r":0.02},{"t":61245.825,"r":-0.25},{"t":61245.875,"r":0.19},{"t":61245.925,"r":-0.11},{"t":61245.975,"r":0.3},
{"t":61246.025,"r":-0.17},{"t":61246.075,"r":0.23},{"t":61246.125,"r":-0.06},{"t":61246.175,"r":0.14},{"t":61246.225,"r":-0.31},{"t":61246.275,"r":0.38},{"t":61246.325,"r":-0.2},{"t":61246.375,"r":0.07},{"t":61246.425,"r":-0.39},{"t":61246.475,"r":0.26},{"t":61246.525,"r":0.01},{"t":61246.575,"r":-0.14},{"t":61246.625,"r":0.32},{"t":61246.675,"r":-0.24},{"t":61246.725,"r":0.12},{"t":61246.775,"r":-0.03},{"t":61246.825,"r":0.2},{"t":61246.875,"r":-0.35},{"t":61246.925,"r":0.16},{"t":61246.975,"r":-0.09},
{"t":61247.025,"r":0.27},{"t":61247.075,"r":-0.11},{"t":61247.125,"r":0.04},{"t":61247.175,"r":-0.28},{"t":61247.225,"r":0.35},{"t":61247.275,"r":-0.18},{"t":61247.325,"r":0.13},{"t":61247.375,"r":0.22},{"t":61247.425,"r":-0.33},{"t":61247.475,"r":0.09},{"t":61247.525,"r":-0.05},{"t":61247.575,"r":0.4},{"t":61247.625,"r":-0.23},{"t":61247.675,"r":0.15},{"t":61247.725,"r":-0.12},{"t":61247.775,"r":0.29},{"t":61247.825,"r":-0.38},{"t":61247.875,"r":0.06},{"t":61247.925,"r":0.19},{"t":61247.975,"r":-0.16},
{"t":61248.025,"r":-0.02},{"t":61248.075,"r":0.32},{"t":61248.125,"r":-0.24},{"t":61248.175,"r":0.11},{"t":61248.225,"r":-0.14},{"t":61248.275,"r":0.25},{"t":61248.325,"r":-0.36},{"t":61248.375,"r":0.18},{"t":61248.425,"r":0.03},{"t":61248.475,"r":-0.29},{"t":61248.525,"r":0.39},{"t":61248.575,"r":-0.08},{"t":61248.625,"r":0.21},{"t":61248.675,"r":-0.19},{"t":61248.725,"r":0.07},{"t":61248.775,"r":-0.4},{"t":61248.825,"r":0.14},{"t":61248.875,"r":0.3},{"t":61248.925,"r":-0.12},{"t":61248.975,"r":0.24},
{"t":61249.025,"r":0.09},{"t":61249.075,"r":-0.35},{"t":61249.125,"r":0.2},{"t":61249.175,"r":-0.05},{"t":61249.225,"r":0.33},{"t":61249.275,"r":-0.22},{"t":61249.325,"r":0.13},{"t":61249.375,"r":-0.1},{"t":61249.425,"r":0.37},{"t":61249.475,"r":-0.3},{"t":61249.525,"r":0.02},{"t":61249.575,"r":0.26},{"t":61249.625,"r":-0.17},{"t":61249.675,"r":0.1},{"t":61249.725,"r":-0.4},{"t":61249.775,"r":0.18},{"t":61249.825,"r":-0.06},{"t":61249.875,"r":0.34},{"t":61249.925,"r":-0.2},{"t":61249.975,"r":0.15},
{"t":61250.025,"r":-0.12},{"t":61250.075,"r":0.28},{"t":61250.125,"r":-0.33},{"t":61250.175,"r":0.06},{"t":61250.225,"r":0.21},{"t":61250.275,"r":-0.16},{"t":61250.325,"r":0.4},{"t":61250.375,"r":-0.26},{"t":61250.425,"r":0.1},{"t":61250.475,"r":-0.03},{"t":61250.525,"r":0.31},{"t":61250.575,"r":-0.38},{"t":61250.625,"r":0.17},{"t":61250.675,"r":0.05},{"t":61250.725,"r":-0.2},{"t":61250.775,"r":0.36},{"t":61250.825,"r":-0.1},{"t":61250.875,"r":0.23},{"t":61250.925,"r":-0.29},{"t":61250.975,"r":0.12},
{"t":61218.77,"r":1.34},{"t":61218.77,"r":1.2},{"t":61218.77,"r":1.1},{"t":61218.77,"r":1.0},{"t":61218.47,"r":-1.44},{"t":61218.47,"r":-1.3},{"t":61218.47,"r":-1.2},{"t":61218.47,"r":-1.1},{"t":61218.47,"r":-0.95},{"t":61221.59,"r":1.44},{"t":61221.59,"r":1.24},{"t":61221.59,"r":1.12},{"t":61220.77,"r":1.27},{"t":61221.97,"r":1.1},{"t":61222.49,"r":-1.35},{"t":61222.49,"r":-1.25},{"t":61220.87,"r":-1.08},{"t":61224.46,"r":-1.26},{"t":61226.66,"r":-1.91},{"t":61226.66,"r":-1.25},{"t":61227.94,"r":1.27},{"t":61227.55,"r":-1.46},{"t":61227.55,"r":-1.2},{"t":61228.15,"r":-1.73},{"t":61228.15,"r":-1.52},{"t":61228.15,"r":-1.38},{"t":61230.17,"r":-1.32},{"t":61231.63,"r":-1.14},{"t":61231.57,"r":1.17},{"t":61232.29,"r":1.2},{"t":61232.29,"r":-1.37},{"t":61234.9,"r":-1.37},{"t":61234.9,"r":-1.2},{"t":61234.9,"r":-1.07},{"t":61235.79,"r":1.56},{"t":61235.79,"r":1.41},{"t":61235.79,"r":1.32},{"t":61235.79,"r":1.05},{"t":61235.87,"r":-1.28},{"t":61235.87,"r":-1.43},{"t":61235.87,"r":-1.15},{"t":61235.87,"r":-1.05},{"t":61236.31,"r":-1.43},{"t":61237.16,"r":1.21},{"t":61237.41,"r":-1.44},{"t":61237.41,"r":-1.35},{"t":61237.41,"r":-1.15},{"t":61238.36,"r":1.33},{"t":61238.79,"r":1.14},{"t":61238.25,"r":-1.17},{"t":61239.77,"r":-1.42},{"t":61239.77,"r":-1.2},{"t":61240.35,"r":-1.42},{"t":61241.43,"r":1.39},{"t":61241.43,"r":1.25},{"t":61241.43,"r":1.2},{"t":61242.02,"r":1.3},{"t":61242.02,"r":1.1},{"t":61241.93,"r":-1.2},{"t":61241.93,"r":-1.0},{"t":61243.6,"r":1.19},{"t":61244.3,"r":-1.5},{"t":61244.42,"r":1.09},{"t":61245.22,"r":1.23},{"t":61245.22,"r":1.28},{"t":61246.04,"r":-1.33},{"t":61246.04,"r":-1.25},{"t":61246.68,"r":1.26},{"t":61247.06,"r":1.3},{"t":61246.92,"r":-1.38},{"t":61248.21,"r":-1.17},{"t":61248.85,"r":-1.17},{"t":61249.88,"r":1.04}
    ]
  },
  "vconcat": [
    {
      "width": 1260,
      "height": 720,
      "layer": [
        {
          "data": {"name": "curve"},
          "mark": {"type": "line", "color": "black", "strokeWidth": 7, "strokeJoin": "round"},
          "encoding": {
            "x": {"field": "t", "type": "quantitative",
              "scale": {"domain": [61217, 61251], "nice": false, "zero": false},
              "axis": {"orient": "bottom", "title": "Modified Julian Date", "format": "d",
                "values": [61217,61218,61219,61220,61221,61222,61223,61224,61225,61226,61227,61228,61229,61230,61231,61232,61233,61234,61235,61236,61237,61238,61239,61240,61241,61242,61243,61244,61245,61246,61247,61248,61249,61250,61251],
                "labelExpr": "datum.value % 5 === 0 ? datum.label : ''",
                "tickSize": {"condition": {"test": "datum.value % 5 === 0", "value": 13}, "value": 6}}},
            "y": {"field": "v", "type": "quantitative",
              "scale": {"domain": [2562.9, 3202.9], "nice": false, "zero": false},
              "axis": {"orient": "left", "title": "nanosecond", "format": "d",
                "values": [2600, 2700, 2800, 2900, 3000, 3100, 3200]}}
          }
        },
        {
          "data": {"name": "curve"},
          "mark": {"type": "line", "color": "#1e90ff", "strokeWidth": 4, "strokeJoin": "round"},
          "encoding": {
            "x": {"field": "t", "type": "quantitative",
              "scale": {"domain": [61217, 61251], "nice": false, "zero": false},
              "axis": {"orient": "top", "title": null, "labels": false,
                "values": [61217,61218,61219,61220,61221,61222,61223,61224,61225,61226,61227,61228,61229,61230,61231,61232,61233,61234,61235,61236,61237,61238,61239,61240,61241,61242,61243,61244,61245,61246,61247,61248,61249,61250,61251],
                "tickSize": {"condition": {"test": "datum.value % 5 === 0", "value": 13}, "value": 6}}},
            "y": {"field": "v", "type": "quantitative",
              "scale": {"domain": [2562.9, 3202.9], "nice": false, "zero": false},
              "axis": {"orient": "right", "title": null, "labels": false,
                "values": [2600, 2700, 2800, 2900, 3000, 3100, 3200]}}
          }
        },
        {
          "data": {"name": "tri"},
          "mark": {"type": "point", "shape": "triangle-up", "filled": false, "color": "#ff0000", "strokeWidth": 3, "size": 1444, "opacity": 1},
          "encoding": {
            "x": {"field": "t", "type": "quantitative", "scale": {"domain": [61217, 61251], "nice": false, "zero": false}, "axis": null},
            "y": {"field": "v", "type": "quantitative", "scale": {"domain": [2562.9, 3202.9], "nice": false, "zero": false}, "axis": null}
          }
        },
        {
          "data": {"name": "tri"},
          "mark": {"type": "text", "color": "#ff0000", "fontSize": 25, "fontWeight": "bold", "align": "center", "baseline": "alphabetic", "dy": -93},
          "encoding": {
            "x": {"field": "t", "type": "quantitative", "scale": {"domain": [61217, 61251], "nice": false, "zero": false}, "axis": null},
            "y": {"field": "v", "type": "quantitative", "scale": {"domain": [2562.9, 3202.9], "nice": false, "zero": false}, "axis": null},
            "text": {"field": "v", "type": "quantitative", "format": ".1f"}
          }
        },
        {
          "data": {"values": [{}]},
          "mark": {"type": "text", "text": "GPS.GPI/Tai2607__DN__-PT13/006-005#_ \u00a09691/1_AV/L2U__CLB__________", "fontSize": 30, "fontWeight": "bold", "color": "black", "align": "left", "baseline": "alphabetic"},
          "encoding": {
            "x": {"datum": 61218.0, "type": "quantitative", "scale": {"domain": [61217, 61251], "nice": false, "zero": false}, "axis": null},
            "y": {"datum": 2595.6, "type": "quantitative", "scale": {"domain": [2562.9, 3202.9], "nice": false, "zero": false}, "axis": null}
          }
        }
      ],
      "resolve": {"axis": {"x": "independent", "y": "independent"}}
    },
    {
      "width": 1260,
      "height": 449,
      "layer": [
        {
          "data": {"name": "resid"},
          "mark": {"type": "point", "shape": "M-1,-1L1,1M-1,1L1,-1", "filled": false, "color": "black", "strokeWidth": 1.2, "size": 52, "opacity": 1},
          "encoding": {
            "x": {"field": "t", "type": "quantitative",
              "scale": {"domain": [61217, 61251], "nice": false, "zero": false},
              "axis": {"orient": "bottom", "title": "Modified Julian Date", "format": "d",
                "values": [61217,61218,61219,61220,61221,61222,61223,61224,61225,61226,61227,61228,61229,61230,61231,61232,61233,61234,61235,61236,61237,61238,61239,61240,61241,61242,61243,61244,61245,61246,61247,61248,61249,61250,61251],
                "labelExpr": "datum.value % 5 === 0 ? datum.label : ''",
                "tickSize": {"condition": {"test": "datum.value % 5 === 0", "value": 13}, "value": 6}}},
            "y": {"field": "r", "type": "quantitative",
              "scale": {"domain": [-2.42, 2.05], "nice": false, "zero": false},
              "axis": {"orient": "left", "title": "residuals (ns)", "format": ".1f",
                "values": [-2, -1.5, -1, -0.5, 0, 0.5, 1, 1.5, 2]}}
          }
        },
        {
          "data": {"values": [{}]},
          "mark": {"type": "text", "text": "Max Smoothing Residual: 1.919_Vdk1.D9 \u00a0Sigma= 0.426ns14/55_08/04/26Mn___2852.815", "fontSize": 25, "fontWeight": "bold", "color": "black", "align": "left", "baseline": "alphabetic"},
          "encoding": {
            "x": {"datum": 61218.0, "type": "quantitative",
              "scale": {"domain": [61217, 61251], "nice": false, "zero": false},
              "axis": {"orient": "top", "title": null, "labels": false,
                "values": [61217,61218,61219,61220,61221,61222,61223,61224,61225,61226,61227,61228,61229,61230,61231,61232,61233,61234,61235,61236,61237,61238,61239,61240,61241,61242,61243,61244,61245,61246,61247,61248,61249,61250,61251],
                "tickSize": {"condition": {"test": "datum.value % 5 === 0", "value": 13}, "value": 6}}},
            "y": {"datum": -2.2, "type": "quantitative",
              "scale": {"domain": [-2.42, 2.05], "nice": false, "zero": false},
              "axis": {"orient": "right", "title": null, "labels": false,
                "values": [-2, -1.5, -1, -0.5, 0, 0.5, 1, 1.5, 2]}}
          }
        }
      ],
      "resolve": {"axis": {"x": "independent", "y": "independent"}}
    },
    {
      "bounds": "flush",
      "spacing": 150,
      "hconcat": [
        {
          "width": 540,
          "height": 450,
          "layer": [
            {
              "data": {"name": "adev"},
              "mark": {"type": "point", "shape": "circle", "filled": true, "color": "black", "size": 113, "opacity": 1},
              "encoding": {
                "x": {"field": "tau", "type": "quantitative",
                  "scale": {"domain": [2, 6], "nice": false, "zero": false},
                  "axis": {"orient": "bottom", "title": "Averaging time, log(τ) (s)", "format": "d",
                    "values": [2, 2.5, 3, 3.5, 4, 4.5, 5, 5.5, 6],
                    "labelExpr": "datum.value % 1 === 0 ? datum.label : ''",
                    "tickSize": {"condition": {"test": "datum.value % 1 === 0", "value": 13}, "value": 7}}},
                "y": {"field": "dev", "type": "quantitative",
                  "scale": {"domain": [-14.5, -11.5], "nice": false, "zero": false},
                  "axis": {"orient": "left", "title": "Modified Allan Deviation (10⁻¹⁵)", "format": "d",
                    "values": [-14, -13, -12]}}
              }
            },
            {
              "data": {"name": "adev"},
              "mark": {"type": "text", "color": "#ff0000", "fontSize": 19, "fontWeight": "bold", "align": "center", "baseline": "alphabetic", "dy": -14},
              "encoding": {
                "x": {"field": "tau", "type": "quantitative",
                  "scale": {"domain": [2, 6], "nice": false, "zero": false},
                  "axis": {"orient": "top", "title": null, "labels": false,
                    "values": [2, 2.5, 3, 3.5, 4, 4.5, 5, 5.5, 6],
                    "tickSize": {"condition": {"test": "datum.value % 1 === 0", "value": 14}, "value": 7}}},
                "y": {"field": "dev", "type": "quantitative",
                  "scale": {"domain": [-14.5, -11.5], "nice": false, "zero": false},
                  "axis": {"orient": "right", "title": null, "labels": false,
                    "values": [-14.5, -14, -13.5, -13, -12.5, -12, -11.5],
                    "tickSize": {"condition": {"test": "datum.value % 1 === 0", "value": 13}, "value": 7}}},
                "text": {"field": "val", "type": "quantitative", "format": ".1f"}
              }
            },
            {
              "data": {"values": [{}]},
              "mark": {"type": "text", "text": "τ = 300s", "fontSize": 16, "color": "black", "align": "center", "baseline": "alphabetic", "dy": -38},
              "encoding": {
                "x": {"datum": 2.477, "type": "quantitative", "scale": {"domain": [2, 6], "nice": false, "zero": false}, "axis": null},
                "y": {"datum": -12.048, "type": "quantitative", "scale": {"domain": [-14.5, -11.5], "nice": false, "zero": false}, "axis": null}
              }
            },
            {
              "data": {"name": "marks"},
              "mark": {"type": "point", "shape": "circle", "filled": true, "color": "black", "size": 30, "opacity": 1},
              "encoding": {
                "x": {"field": "tau", "type": "quantitative", "scale": {"domain": [2, 6], "nice": false, "zero": false}, "axis": null},
                "y": {"datum": -14.5, "type": "quantitative", "scale": {"domain": [-14.5, -11.5], "nice": false, "zero": false}, "axis": null}
              }
            },
            {
              "data": {"name": "marks"},
              "mark": {"type": "text", "color": "#ff0000", "fontSize": 19, "fontWeight": "bold", "align": "center", "baseline": "alphabetic", "dy": -15},
              "encoding": {
                "x": {"field": "tau", "type": "quantitative", "scale": {"domain": [2, 6], "nice": false, "zero": false}, "axis": null},
                "y": {"datum": -14.5, "type": "quantitative", "scale": {"domain": [-14.5, -11.5], "nice": false, "zero": false}, "axis": null},
                "text": {"field": "name", "type": "nominal"}
              }
            }
          ],
          "resolve": {"axis": {"x": "independent", "y": "independent"}}
        },
        {
          "width": 540,
          "height": 450,
          "layer": [
            {
              "data": {"name": "tdev"},
              "mark": {"type": "point", "shape": "circle", "filled": true, "color": "black", "size": 113, "opacity": 1},
              "encoding": {
                "x": {"field": "tau", "type": "quantitative",
                  "scale": {"domain": [1.75, 6], "nice": false, "zero": false},
                  "axis": {"orient": "bottom", "title": "Averaging time, log(τ) (s)", "format": "d",
                    "values": [2, 2.5, 3, 3.5, 4, 4.5, 5, 5.5, 6],
                    "labelExpr": "datum.value % 1 === 0 ? datum.label : ''",
                    "tickSize": {"condition": {"test": "datum.value % 1 === 0", "value": 13}, "value": 7}}},
                "y": {"field": "dev", "type": "quantitative",
                  "scale": {"domain": [-10, -7.5], "nice": false, "zero": false},
                  "axis": {"orient": "left", "title": "Time deviation (10⁻¹⁰ s)", "format": "d",
                    "values": [-10, -9.5, -9, -8.5, -8, -7.5],
                    "labelExpr": "datum.value % 1 === 0 ? datum.label : ''",
                    "tickSize": {"condition": {"test": "datum.value % 1 === 0", "value": 13}, "value": 7}}}
              }
            },
            {
              "data": {"name": "tdev"},
              "mark": {"type": "text", "color": "#ff0000", "fontSize": 19, "fontWeight": "bold", "align": "center", "baseline": "alphabetic", "dy": -16},
              "encoding": {
                "x": {"field": "tau", "type": "quantitative",
                  "scale": {"domain": [1.75, 6], "nice": false, "zero": false},
                  "axis": {"orient": "top", "title": null, "labels": false,
                    "values": [2, 2.5, 3, 3.5, 4, 4.5, 5, 5.5, 6],
                    "tickSize": {"condition": {"test": "datum.value % 1 === 0", "value": 14}, "value": 7}}},
                "y": {"field": "dev", "type": "quantitative",
                  "scale": {"domain": [-10, -7.5], "nice": false, "zero": false},
                  "axis": {"orient": "right", "title": null, "labels": false,
                    "values": [-10, -9.5, -9, -8.5, -8, -7.5],
                    "tickSize": {"condition": {"test": "datum.value % 1 === 0", "value": 13}, "value": 7}}},
                "text": {"field": "val", "type": "quantitative", "format": ".1f"}
              }
            },
            {
              "data": {"name": "marks"},
              "mark": {"type": "point", "shape": "circle", "filled": true, "color": "black", "size": 80, "opacity": 1},
              "encoding": {
                "x": {"field": "tau", "type": "quantitative", "scale": {"domain": [1.75, 6], "nice": false, "zero": false}, "axis": null},
                "y": {"datum": -10, "type": "quantitative", "scale": {"domain": [-10, -7.5], "nice": false, "zero": false}, "axis": null}
              }
            },
            {
              "data": {"name": "marks"},
              "mark": {"type": "text", "color": "#ff0000", "fontSize": 19, "fontWeight": "bold", "align": "center", "baseline": "alphabetic", "dy": -17},
              "encoding": {
                "x": {"field": "tau", "type": "quantitative", "scale": {"domain": [1.75, 6], "nice": false, "zero": false}, "axis": null},
                "y": {"datum": -10, "type": "quantitative", "scale": {"domain": [-10, -7.5], "nice": false, "zero": false}, "axis": null},
                "text": {"field": "name", "type": "nominal"}
              }
            }
          ],
          "resolve": {"axis": {"x": "independent", "y": "independent"}}
        }
      ]
    }
  ]
}
